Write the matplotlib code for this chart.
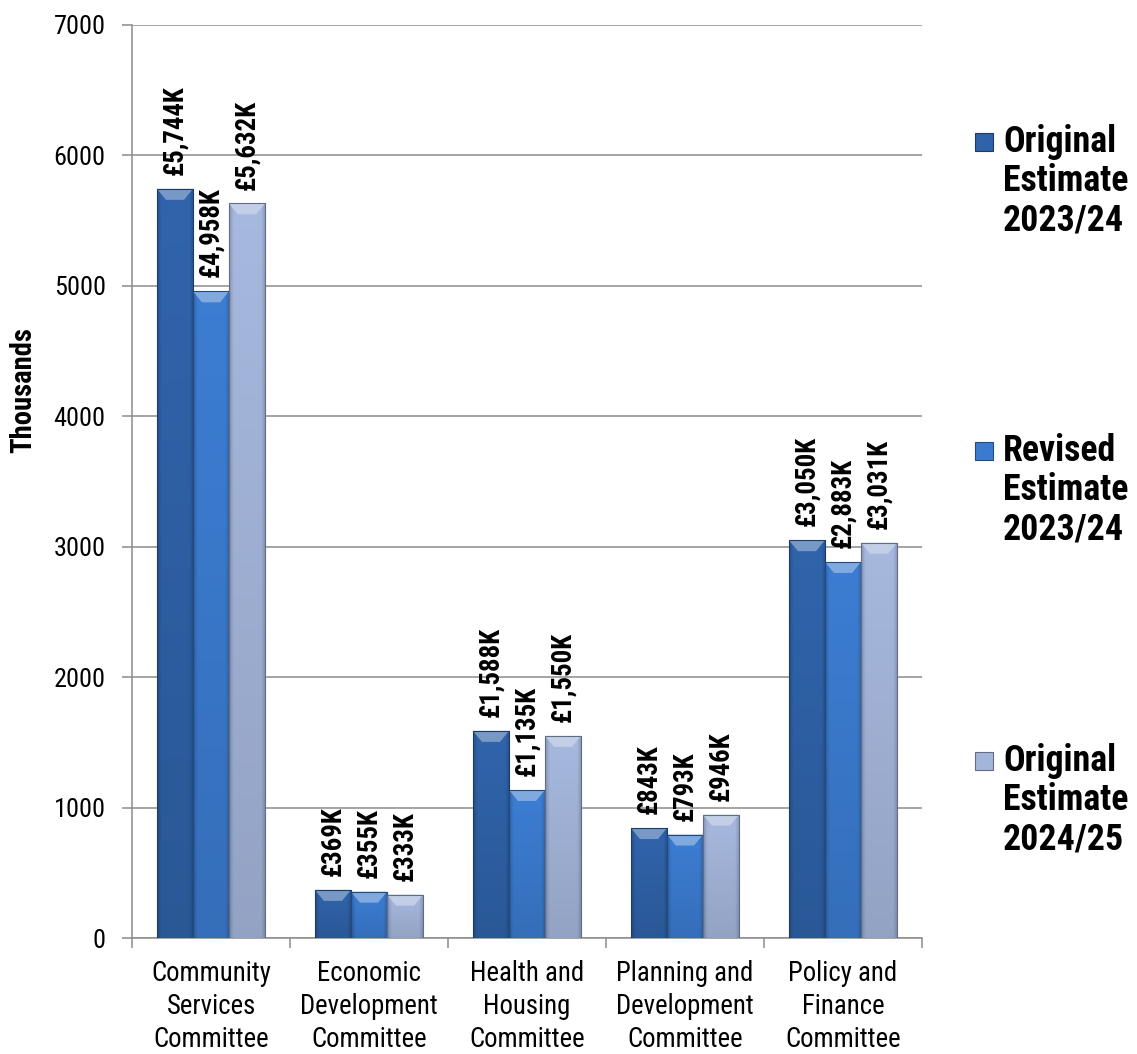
import numpy as np
import matplotlib
matplotlib.use("Agg")
import matplotlib.pyplot as plt
from matplotlib import font_manager
from matplotlib.patches import Rectangle, Polygon
from matplotlib.colors import to_rgb

# ---- data -------------------------------------------------------------
categories = [
    "Community\nServices\nCommittee",
    "Economic\nDevelopment\nCommittee",
    "Health and\nHousing\nCommittee",
    "Planning and\nDevelopment\nCommittee",
    "Policy and\nFinance\nCommittee",
]
series_names = [
    "Original\nEstimate\n2023/24",
    "Revised\nEstimate\n2023/24",
    "Original\nEstimate\n2024/25",
]
original_2023_24 = [5744, 369, 1588, 843, 3050]
revised_2023_24 = [4958, 355, 1135, 793, 2883]
original_2024_25 = [5632, 333, 1550, 946, 3031]
y_ticks = [0, 1000, 2000, 3000, 4000, 5000, 6000, 7000]
y_label = "Thousands"

series_values = [original_2023_24, revised_2023_24, original_2024_25]
series_colors = ["#2f62a8", "#3b7bcf", "#a3b5da"]

# ---- fonts: prefer a condensed sans, else a regular one ---------------
installed = {f.name for f in font_manager.fontManager.ttflist}
prefs = ["Liberation Sans Narrow", "Roboto Condensed", "Open Sans Condensed",
         "Liberation Sans", "DejaVu Sans"]
family = [f for f in prefs if f in installed]
plt.rcParams["font.family"] = family

W, H = 1137, 1054
fig = plt.figure(figsize=(W / 100, H / 100), dpi=100)
renderer = fig.canvas.get_renderer()


def fit_size(sample, target_px, weight="normal"):
    """Font size (pt) at which `sample` is `target_px` pixels wide."""
    t = fig.text(0, 0, sample, fontsize=20, fontweight=weight)
    w = t.get_window_extent(renderer).width
    t.remove()
    return 20.0 * target_px / w


def fit_linespacing(fs, target_px, weight="normal"):
    """Line spacing giving `target_px` pixels between consecutive lines."""
    t1 = fig.text(0, 0, "A", fontsize=fs, fontweight=weight, linespacing=1.0)
    t2 = fig.text(0, 0, "A\nA", fontsize=fs, fontweight=weight, linespacing=1.0)
    step = t2.get_window_extent(renderer).height - t1.get_window_extent(renderer).height
    t1.remove()
    t2.remove()
    return target_px / step


fs_tick = fit_size("7000", 52)
fs_cat = fit_size("Community", 120)
fs_val = fit_size("£1,588K", 90, "bold")
fs_leg = fit_size("Estimate", 125, "bold")
fs_ylab = fit_size("Thousands", 126, "bold")
ls_cat = fit_linespacing(fs_cat, 34.5)
ls_leg = fit_linespacing(fs_leg, 40.0, "bold")


def em_px(fs):
    return fs * 100.0 / 72.0


ax = fig.add_axes([132 / W, 1 - 938 / H, 790 / W, 913 / H])

n_series = len(series_values)
bar_w = 0.228
x = np.arange(len(categories))
ax.set_xlim(-0.5, len(categories) - 0.5)
ax.set_ylim(y_ticks[0], y_ticks[-1])

# pixel -> data conversions for the bevel styling
px_x = len(categories) / 790.0
px_y = (y_ticks[-1] - y_ticks[0]) / 913.0


def shade(rgb, f):
    rgb = np.array(rgb)
    if f >= 1:
        return rgb + (1 - rgb) * (f - 1)
    return rgb * f


for i, (vals, col) in enumerate(zip(series_values, series_colors)):
    offs = (i - (n_series - 1) / 2) * bar_w
    bars = ax.bar(x + offs, vals, width=bar_w, color=col, edgecolor="none", zorder=3)
    base = to_rgb(col)
    for b, v in zip(bars, vals):
        x0, w, h = b.get_x(), b.get_width(), b.get_height()
        # gradient body: darker toward the sides and the bottom
        nx, ny = 40, 80
        u = np.linspace(0, 1, nx)
        t = np.linspace(0, 1, ny)[:, None]
        edge = np.clip(np.minimum(u, 1 - u) / 0.12, 0, 1)[None, :]
        f = (0.82 + 0.18 * edge) * (0.9 + 0.12 * t)
        img = np.clip(np.array(base)[None, None, :] * f[:, :, None], 0, 1)
        im = ax.imshow(img, extent=(x0, x0 + w, 0, h), origin="lower",
                       aspect="auto", zorder=3.1, interpolation="bilinear")
        im.set_clip_path(b)
        # bevelled top
        bh = min(11 * px_y, h * 0.5)
        bx = 9 * px_x
        ax.add_patch(Polygon([(x0, h), (x0 + w, h), (x0 + w - bx, h - bh), (x0 + bx, h - bh)],
                             closed=True, facecolor=shade(base, 1.35),
                             edgecolor="none", zorder=3.2))
        ax.add_patch(Rectangle((x0, 0), w, h, facecolor="none",
                               edgecolor=shade(base, 0.6), linewidth=0.8, zorder=3.3))
        ax.annotate(f"£{v:,}K", xy=(x0 + w / 2, h), xytext=(0, 10),
                    textcoords="offset points", rotation=90, ha="center", va="bottom",
                    fontsize=fs_val, fontweight="bold", color="black", zorder=5)

# ---- axes styling -----------------------------------------------------
grid_col = "#8c8c8c"
ax.set_yticks(y_ticks)
ax.set_yticklabels([str(t) for t in y_ticks], fontsize=fs_tick)
ax.yaxis.grid(True, color=grid_col, linewidth=1.1, zorder=0)
ax.set_axisbelow(True)
ax.set_xticks(x)
ax.set_xticklabels(categories, fontsize=fs_cat, linespacing=ls_cat)
ax.set_xticks(np.arange(len(categories) + 1) - 0.5, minor=True)
ax.tick_params(axis="x", which="major", length=0, pad=16)
ax.tick_params(axis="x", which="minor", length=7, width=1.1, color=grid_col, direction="out")
ax.tick_params(axis="y", length=7, width=1.1, color=grid_col, pad=12, direction="out")
for s in ["top", "right"]:
    ax.spines[s].set_visible(False)
for s in ["left", "bottom"]:
    ax.spines[s].set_color(grid_col)
    ax.spines[s].set_linewidth(1.1)

fig.text(23 / W, 1 - 390 / H, y_label, rotation=90, ha="center", va="center",
         fontsize=fs_ylab, fontweight="bold")

# ---- legend -----------------------------------------------------------
legend_centers = [142, 451, 761]
leg_em = em_px(fs_leg)
for name, col, cy in zip(series_names, series_colors, legend_centers):
    base = to_rgb(col)
    s = 18
    fig.add_artist(Rectangle((975 / W, 1 - (cy + s / 2) / H), s / W, s / H,
                             transform=fig.transFigure, facecolor=base,
                             edgecolor=shade(base, 0.6), linewidth=0.8))
    top_px = cy - 11 - 0.19 * leg_em
    fig.text(1003 / W, 1 - top_px / H, name, ha="left", va="top",
             fontsize=fs_leg, fontweight="bold", linespacing=ls_leg)

fig.savefig("out.png", dpi=100)
